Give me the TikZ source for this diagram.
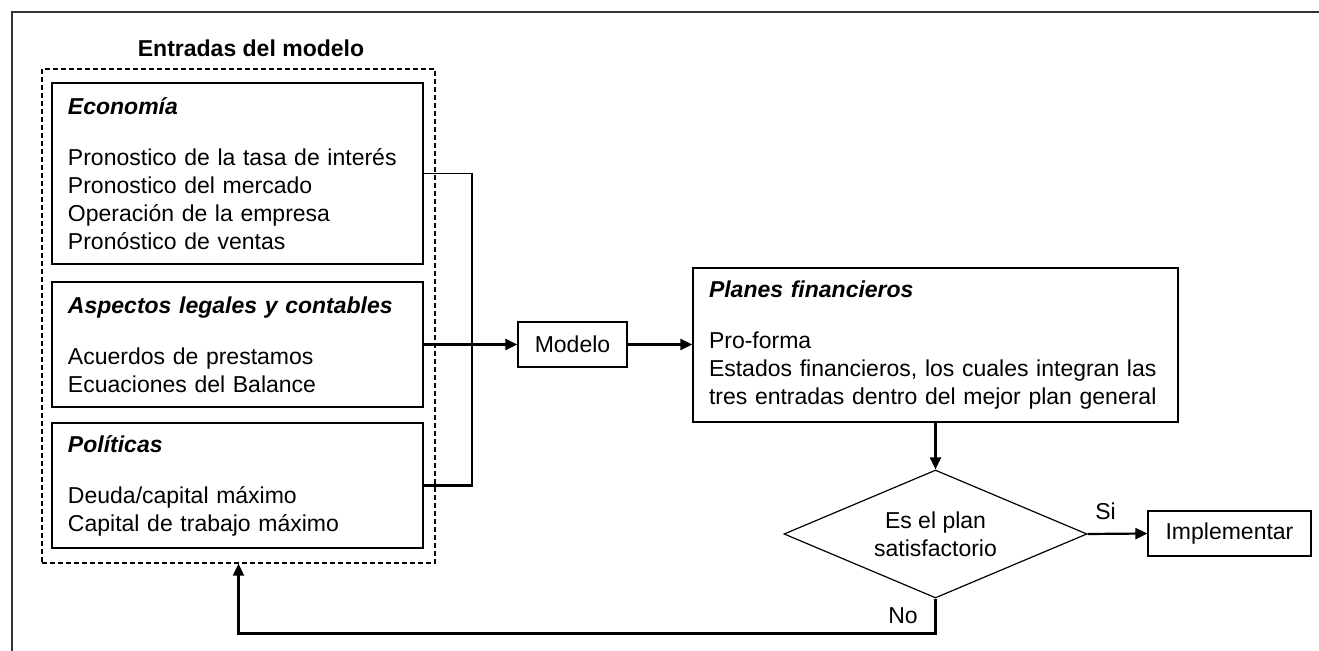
\documentclass[tikz,border=0pt]{standalone}
\usepackage{fontspec}
\setmainfont{Liberation Sans}
\usepackage{tikz}
\usetikzlibrary{arrows.meta,shapes.geometric}

\begin{document}
\begin{tikzpicture}[x=0.5pt,y=-0.5pt,
  font=\fontsize{11.5}{14}\selectfont,
  caja/.style={draw, line width=0.6pt, align=left, inner xsep=8pt, inner ysep=0pt},
  linea/.style={line width=0.6pt},
  lineagruesa/.style={line width=1.1pt},
  flecha/.style={-{Triangle[length=6pt,width=5.5pt]}, line width=1.1pt}]
\useasboundingbox (0,0) rectangle (1319,651);
\draw[line width=1pt, black!80] (12,651) -- (12,12) -- (1319,12);

% entradas del modelo
\node (titulo) at (251,48) {\bfseries Entradas del modelo};
\node[draw, dashed, dash pattern=on 2.5pt off 1.5pt, line width=0.7pt, minimum width=196.5pt, minimum height=247pt] (entradas) at (238.5,316) {};
\node[caja, minimum width=185.5pt, minimum height=90.5pt, text width=169.5pt] (economia) at (237.5,173.5) {{\bfseries\itshape Economía}\\[11.5pt]
Pronostico de la tasa de interés\\
Pronostico del mercado\\
Operación de la empresa\\
Pronóstico de ventas};
\node[caja, minimum width=185.5pt, minimum height=62.5pt, text width=169.5pt] (aspectos) at (237.5,344.5) {{\bfseries\itshape Aspectos legales y contables}\\[11.5pt]
Acuerdos de prestamos\\
Ecuaciones del Balance};
\node[caja, minimum width=185.5pt, minimum height=62.5pt, text width=169.5pt] (politicas) at (237.5,485.5) {{\bfseries\itshape Políticas}\\[11.5pt]
Deuda/capital máximo\\
Capital de trabajo máximo};

% modelo y planes
\node[caja, align=center, minimum width=54.5pt, minimum height=22.5pt] (modelo) at (572.5,344.5) {Modelo};
\node[caja, minimum width=242.5pt, minimum height=77pt, text width=226.5pt] (planes) at (935.5,345) {{\bfseries\itshape Planes financieros}\\[11.5pt]
Pro-forma\\
Estados financieros, los cuales integran las\\
tres entradas dentro del mejor plan general};
\node[draw, diamond, line width=0.6pt, aspect=2.37, inner sep=0pt, align=center, minimum width=151.5pt, minimum height=64pt] (decision) at (935.5,534) {Es el plan\\satisfactorio};
\node[caja, align=center, minimum width=81.5pt, minimum height=22.5pt] (implementar) at (1229.5,533.5) {Implementar};

% conectores
\coordinate (bus) at (472,344.5);
\draw[linea] (economia.east) -| (bus);
\draw[lineagruesa] (politicas.east) -| (bus);
\draw[lineagruesa] (aspectos.east) -- (bus);
\draw[flecha] (bus) -- (modelo.west);
\draw[flecha] (modelo.east) -- (modelo.east -| planes.west);
\draw[flecha] (planes.south) -- (decision.north);
\draw[flecha] (decision.east) -- node[above=3pt, pos=0.3] {Si} (implementar.west);
\draw[flecha] (decision.south) -- node[left=5pt] {No} ++(0,35) -| (entradas.south);
\end{tikzpicture}
\end{document}
